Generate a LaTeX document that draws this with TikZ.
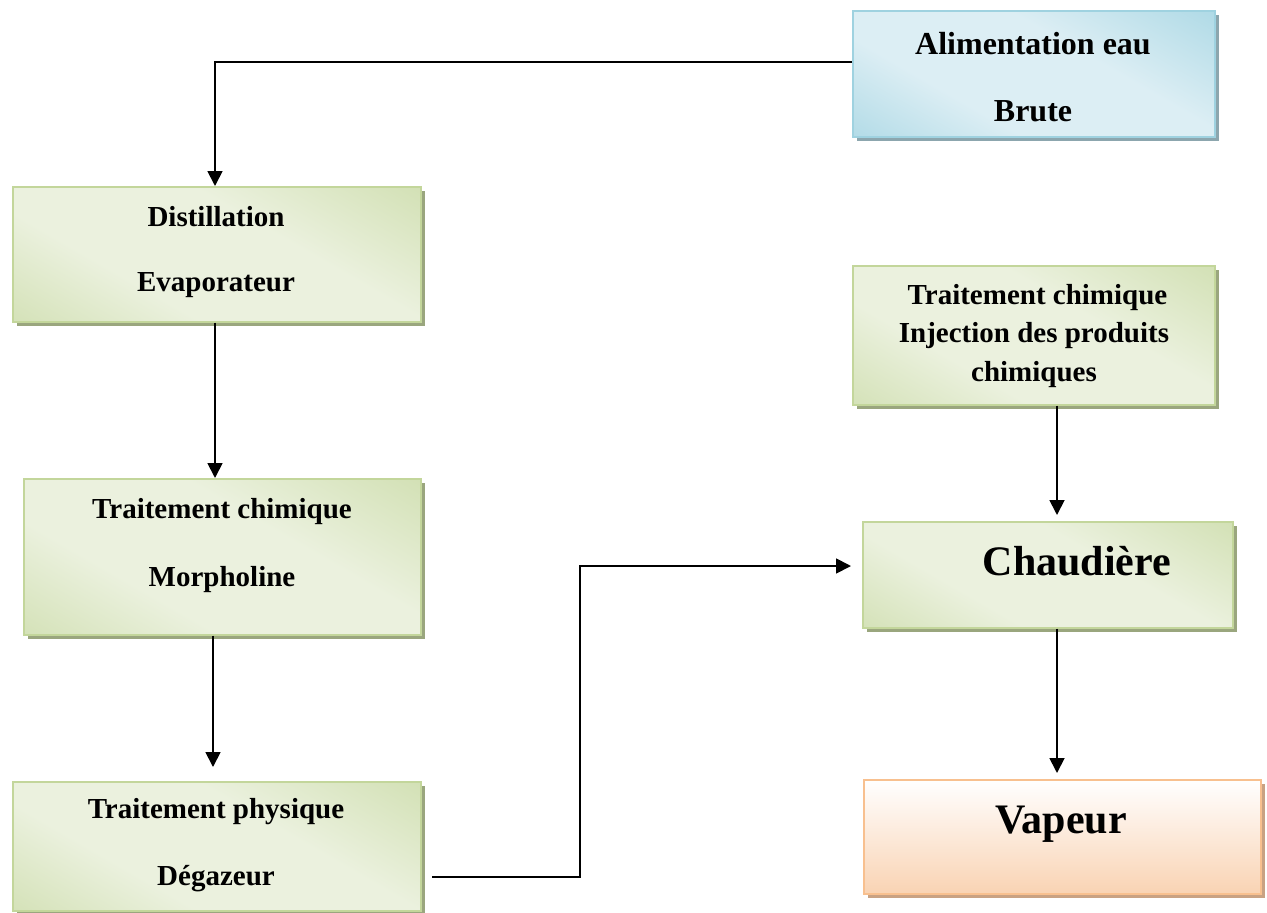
\documentclass[tikz,border=0pt]{standalone}
\usepackage{fontspec}
\setmainfont{Liberation Serif}
\usetikzlibrary{arrows.meta,shadows}
\definecolor{glight}{HTML}{EBF1DE}
\definecolor{gdark}{HTML}{C3D69B}
\definecolor{gborder}{HTML}{C3D69B}
\definecolor{gshadow}{HTML}{9AA67E}
\definecolor{blight}{HTML}{DCEEF4}
\definecolor{bdark}{HTML}{93CDDD}
\definecolor{bborder}{HTML}{9FD2E0}
\definecolor{bshadow}{HTML}{8CA6AE}
\definecolor{olight}{HTML}{FFFFFF}
\definecolor{odark}{HTML}{F9D3B3}
\definecolor{oborder}{HTML}{F8C08F}
\definecolor{oshadow}{HTML}{C9A283}
\pgfdeclarehorizontalshading{diagshade}{100bp}{color(0bp)=(gdark); color(36bp)=(glight); color(60bp)=(glight); color(100bp)=(gdark)}
\pgfdeclarehorizontalshading{bdiagshade}{100bp}{color(0bp)=(bdark); color(36bp)=(blight); color(60bp)=(blight); color(100bp)=(bdark)}
\tikzset{
  boxbase/.style={rectangle, anchor=north west, inner sep=0pt, line width=1.6pt},
  greenbox/.style={boxbase, draw=gborder, shading=diagshade, shading angle=60,
    drop shadow={shadow xshift=4pt, shadow yshift=-4pt, fill=gshadow, opacity=1}},
  bluebox/.style={boxbase, draw=bborder, shading=bdiagshade, shading angle=60,
    drop shadow={shadow xshift=4pt, shadow yshift=-4pt, fill=bshadow, opacity=1}},
  orangebox/.style={boxbase, draw=oborder, top color=olight, bottom color=odark,
    drop shadow={shadow xshift=4pt, shadow yshift=-4pt, fill=oshadow, opacity=1}},
  lbl/.style={align=center, inner sep=0pt, font=\fontsize{29}{38.5}\selectfont\bfseries},
  biglbl/.style={align=center, inner sep=0pt, font=\fontsize{42}{50}\selectfont\bfseries},
  conn/.style={line width=1.8pt, -{Triangle[length=15pt,width=15pt]}}
}
\begin{document}
\begin{tikzpicture}[x=1pt,y=-1pt]
\useasboundingbox (0,0) rectangle (1267,913);
% boxes
\node[bluebox, minimum width=362pt, minimum height=126pt] (alim) at (852,10) {};
\node[greenbox, minimum width=408pt, minimum height=135pt] (dist) at (12,186) {};
\node[greenbox, minimum width=397pt, minimum height=156pt] (morph) at (23,478) {};
\node[greenbox, minimum width=408pt, minimum height=129pt] (degaz) at (12,781) {};
\node[greenbox, minimum width=362pt, minimum height=139pt] (chim) at (852,265) {};
\node[greenbox, minimum width=370pt, minimum height=106pt] (chaud) at (862,521) {};
\node[orangebox, minimum width=397pt, minimum height=114pt] (vap) at (863,779) {};
% texts
\node[lbl, font=\fontsize{32}{67}\selectfont\bfseries] (alim-t) at (1033,77) {Alimentation eau\\Brute};
\node[lbl, font=\fontsize{29}{65}\selectfont\bfseries] (dist-t) at (216,252.5) {Distillation\\Evaporateur};
\node[lbl, font=\fontsize{29}{68}\selectfont\bfseries] (morph-t) at (222,546) {Traitement chimique\\Morpholine};
\node[lbl, font=\fontsize{29}{67}\selectfont\bfseries] (degaz-t) at (216,845) {Traitement physique\\D\'egazeur};
\node[lbl] (chim-t) at (1034,336) {\hspace*{7pt}Traitement chimique\\Injection des produits\\chimiques};
\node[biglbl] (chaud-t) at (1077,561) {Chaudi\`ere};
\node[biglbl] (vap-t) at (1061,824) {Vapeur};
% connectors
\coordinate (c1) at (215,62);
\coordinate (e3) at (213,767);
\coordinate (s4) at (432,877);
\coordinate (k1) at (580,877);
\coordinate (k2) at (580,566);
\coordinate (e4) at (851,566);
\coordinate (e5) at (1057,515);
\coordinate (e6) at (1057,773);
\draw[conn] (alim.west |- c1) -- (c1) -- (c1 |- dist.north);
\draw[conn] (dist.south -| c1) -- (c1 |- morph.north);
\draw[conn] (morph.south -| e3) -- (e3);
\draw[conn] (s4) -- (k1) -- (k2) -- (e4);
\draw[conn] (chim.south -| e5) -- (e5);
\draw[conn] (chaud.south -| e6) -- (e6);
\end{tikzpicture}
\end{document}
